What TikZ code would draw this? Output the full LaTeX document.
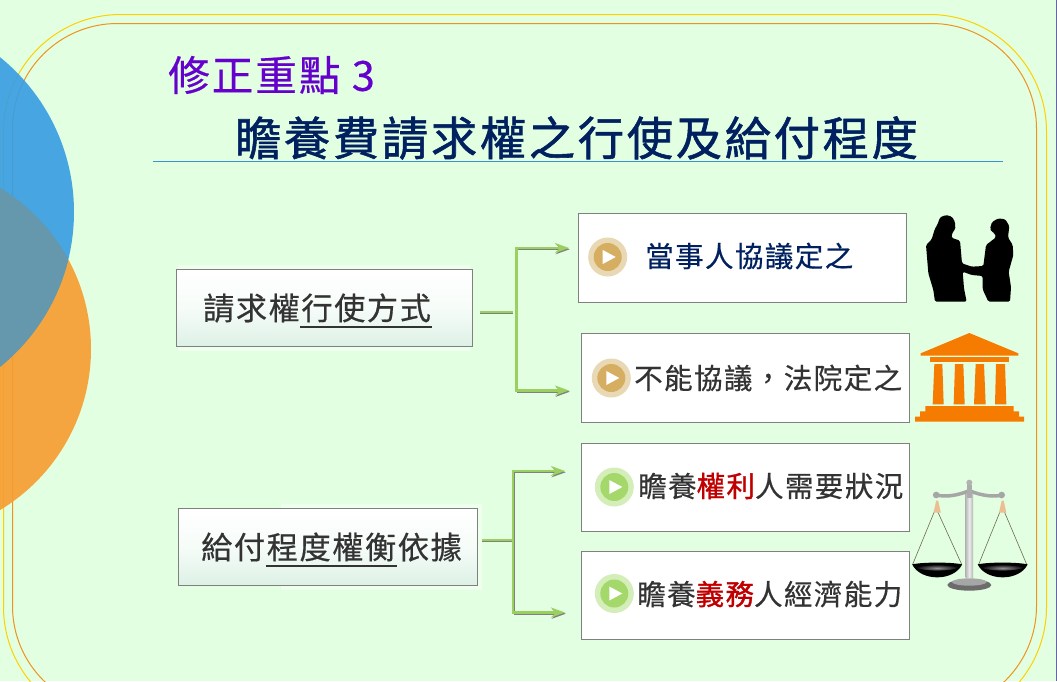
\documentclass[tikz,border=0pt]{standalone}
\usepackage{fontspec}
\usetikzlibrary{arrows.meta}
\newfontfamily\subfont[LetterSpace=5, FakeBold=0.5]{Noto Sans CJK TC}
\newfontfamily\headfont[LetterSpace=6, FakeBold=1.2]{Noto Sans CJK TC}
\newfontfamily\wordfont[LetterSpace=5, FakeBold=0.5]{Noto Sans CJK TC}
\newfontfamily\redfont[LetterSpace=5, FakeBold=1.2]{Noto Sans CJK TC}
\definecolor{pagegreen}{HTML}{E2FFE1}
\definecolor{navyink}{HTML}{002060}
\definecolor{purpleink}{HTML}{6600CC}
\definecolor{darkink}{HTML}{333333}
\definecolor{redink}{HTML}{C00000}
\definecolor{leafgreen}{HTML}{9BCF5F}
\definecolor{courtorange}{HTML}{F57C00}
\definecolor{ringtan}{HTML}{E9D8B4}
\definecolor{disctan}{HTML}{D6AE62}
\definecolor{ringgreen}{HTML}{D3EEB8}
\definecolor{discgreen}{HTML}{A5D86A}
\definecolor{circleblue}{HTML}{379CE3}
\definecolor{circleorange}{HTML}{F79C2E}
\definecolor{circlemix}{HTML}{6998A8}
\definecolor{ruleblue}{HTML}{3B93D1}
\definecolor{frameyellow}{HTML}{FFD000}
\definecolor{frameorange}{HTML}{F0921E}
\definecolor{boxfoot}{HTML}{DDF1E6}
\definecolor{boxmiddle}{HTML}{F6FCF8}
\tikzset{
  leadbox/.style={draw=gray, line width=1pt, top color=white, bottom color=boxfoot, middle color=boxmiddle},
  pointbox/.style={draw=gray, line width=1pt, fill=white},
  halo/.style={fill=white, opacity=0.45},
  leadtext/.style={text=darkink, font=\wordfont\fontsize{31.2}{36}\selectfont, inner sep=0pt},
  pointtext/.style={text=darkink, font=\wordfont\fontsize{28.5}{33}\selectfont, inner sep=0pt},
  greenlink/.style={leafgreen, line width=2.4pt, -{Stealth[length=14pt, width=10pt, inset=5pt]},
    preaction={draw=gray, transform canvas={shift={(0.8,1.2)}}}},
  greenstub/.style={leafgreen, line width=2.4pt,
    preaction={draw=gray, transform canvas={shift={(0,1.2)}}}},
  underbar/.style={darkink, line width=1.6pt},
}
\newcommand{\playmark}[3]{% center, ring colour, disc colour
  \fill[#2] (#1) circle (19.5);
  \fill[#3] (#1) circle (14);
  \fill[white] ([shift={(-5,-7)}]#1) -- ([shift={(8,0)}]#1) -- ([shift={(-5,7)}]#1) -- cycle;
}
\begin{document}
\begin{tikzpicture}[x=1pt, y=-1pt]
  \useasboundingbox (0,0) rectangle (1057,681);
  \clip (0,0) rectangle (1057,681);
  \fill[pagegreen] (0,0) rectangle (1057,681);
  \draw[black!60!blue!60!white] (1056.5,0) -- (1056.5,681);

  % Frame lines
  \draw[frameyellow, line width=1pt, rounded corners=117] (3.5,14.5) rectangle (1046.5,724);
  \draw[frameorange, line width=1pt, rounded corners=105] (12.5,23.5) rectangle (1036.5,711);

  % Circles on the left
  \fill[circleorange, opacity=0.9] (-97,349) circle (188);
  \fill[circleblue, opacity=0.9] (-125,212) circle (199);
  \begin{scope}
    \clip (-97,349) circle (188);
    \fill[circlemix, opacity=0.9] (-125,212) circle (199);
  \end{scope}

  % Titles
  \node[text=purpleink, font=\subfont\fontsize{41.5}{48}\selectfont, inner sep=0pt, anchor=west] (subTitle) at (168,75) {修正重點 3};
  \node[text=navyink, font=\headfont\fontsize{46.2}{52}\selectfont, inner sep=0pt] (mainTitle) at (576.5,138) {瞻養費請求權之行使及給付程度};
  \draw[ruleblue] (153,161) -- (1003,161);

  % Left boxes
  \fill[halo] (178,265) rectangle (470,351);
  \fill[halo] (281,504) rectangle (482,590);
  \node[leadbox, minimum width=296, minimum height=77] (claimBox) at (324.5,308) {};
  \node[leadbox, minimum width=299, minimum height=77] (basisBox) at (328,547) {};
  \node[leadtext] (claimText) at (317,308) {請求權行使方式};
  \node[leadtext] (basisText) at (331.5,547) {給付程度權衡依據};
  \draw[underbar] (300,327) -- (432,327);
  \draw[underbar] (266,566) -- (397,566);

  % Right boxes
  \node[pointbox, minimum width=328, minimum height=89] (agreeBox) at (742.5,258) {};
  \node[pointbox, minimum width=328, minimum height=89] (courtBox) at (745.5,378) {};
  \node[pointbox, minimum width=328, minimum height=88] (needBox) at (745.5,487.5) {};
  \node[pointbox, minimum width=328, minimum height=88] (meansBox) at (745.5,595.5) {};
  \playmark{607.7,257}{ringtan}{disctan}
  \playmark{611.3,378}{ringtan}{disctan}
  \playmark{614.3,487}{ringgreen}{discgreen}
  \playmark{614.3,593.5}{ringgreen}{discgreen}
  \node[pointtext, text=navyink, anchor=west] (agreeText) at (645,256) {當事人協議定之};
  \node[pointtext, anchor=west] (courtText) at (634,378) {不能協議，法院定之};
  \node[pointtext, anchor=west] (needText) at (638,486) {瞻養\textcolor{redink}{\redfont 權利}人需要狀況};
  \node[pointtext, anchor=west] (meansText) at (637,594) {瞻養\textcolor{redink}{\redfont 義務}人經濟能力};

  % Green connectors
  \coordinate (forkA) at (516.5,312);
  \coordinate (forkB) at (513,540);
  \coordinate (agreeTip) at ([shift={(-9,-10)}]agreeBox.west);
  \coordinate (courtTip) at ([shift={(-12,12.5)}]courtBox.west);
  \coordinate (needTip) at ([shift={(-16,-16.5)}]needBox.west);
  \coordinate (meansTip) at ([shift={(-16,17)}]meansBox.west);
  \draw[greenstub] ([shift={(7,4)}]claimBox.east) -- ([xshift=-4]forkA);
  \draw[greenstub] ([shift={(4,-7)}]basisBox.east) -- (forkB);
  \draw[greenlink] (forkA) |- (agreeTip);
  \draw[greenlink] (forkA) |- (courtTip);
  \draw[greenlink] (forkB) |- (needTip);
  \draw[greenlink] (forkB) |- (meansTip);

  % Handshake
  \begin{scope}[shift={(900,200)}, scale=1/3]
    \fill[black, rounded corners=1.5] (113,72) -- (120,52) -- (138,45) -- (156,50) -- (165,66) -- (166,88) -- (158,96) -- (154,113) -- (180,122) -- (186,190) -- (215,200) -- (250,198) -- (258,135) -- (288,112) -- (284,100) -- (274,94) -- (270,86) -- (276,66) -- (295,55) -- (316,58) -- (328,78) -- (324,112) -- (338,135) -- (340,165) -- (326,215) -- (333,262) -- (330,305) -- (265,305) -- (248,268) -- (248,228) -- (215,225) -- (188,215) -- (192,265) -- (200,305) -- (105,305) -- (100,270) -- (85,220) -- (78,135) -- (95,118) -- (104,88) -- cycle;

    % Court building
    \fill[courtorange] (208,399) -- (355,460) -- (355,467) -- (62,467) -- (62,460) -- cycle;
    \fill[courtorange] (90,472) rectangle (327,487);
    \foreach \a/\b/\c/\d in {103/127/131/98, 165/190/194/161, 227/252/257/222, 288/315/319/285}
      \fill[courtorange] (\a,492) -- (\b,492) -- (\c,613) -- (\d,613) -- cycle;
    \fill[courtorange] (76,618) -- (341,618) -- (341,634) -- (357,634) -- (357,650) -- (372,650) -- (372,665) -- (45,665) -- (45,650) -- (60,650) -- (60,634) -- (76,634) -- cycle;
  \end{scope}

  % Scales
  \begin{scope}[shift={(900,470)}, scale=1/3]
    \foreach \a/\b/\c in {103/38/283, 113/185/283, 300/236/283, 313/380/283}
      \draw[black!50!olive!60!gray, line width=0.6pt] (\a,125) -- (\b,\c);
    \foreach \m in {111.5,308}{
      \fill[black] (\m-75,283) .. controls (\m-50,335) and (\m+50,335) .. (\m+75,283) .. controls (\m+40,276) and (\m-40,276) .. (\m-75,283);
      \shade[inner color=gray!85, outer color=black] (\m-66,292) .. controls (\m-40,283) and (\m+40,283) .. (\m+66,292) .. controls (\m+40,305) and (\m-40,305) .. (\m-66,292);
      \fill[orange!40!brown!50!white] (\m-11,128) -- (\m-3,92) -- (\m+3,92) -- (\m+11,128) -- cycle;
      \fill[gray!70] (\m-3,75) circle (10);
    }
    \fill[gray!85!black] (208,345) ellipse (66 and 17);
    \fill[gray!70] (208,336) ellipse (52 and 11);
    \shade[left color=gray!55, right color=gray!60, middle color=gray!15] (197,60) rectangle (219,322);
    \draw[gray!70, line width=3.5pt, line cap=round] (108,74) .. controls (130,82) and (170,78) .. (208,62) .. controls (246,78) and (286,82) .. (308,74);
    \fill[gray!60] (208,38) circle (9);
    \fill[gray!65] (200,45) rectangle (217,85);
  \end{scope}
\end{tikzpicture}
\end{document}
